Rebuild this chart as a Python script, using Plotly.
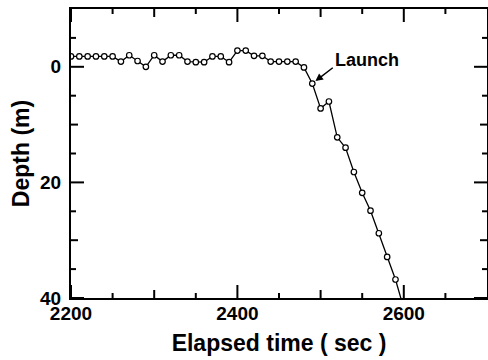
import plotly.graph_objects as go

# ---- data ----
elapsed_time = [2200, 2210, 2220, 2230, 2240, 2250, 2260, 2270, 2280, 2290,
                2300, 2310, 2320, 2330, 2340, 2350, 2360, 2370, 2380, 2390,
                2400, 2410, 2420, 2430, 2440, 2450, 2460, 2470, 2480, 2490,
                2500, 2510, 2520, 2530, 2540, 2550, 2560, 2570, 2580, 2590,
                2600]
depth = [-1.8, -1.8, -1.8, -1.8, -1.8, -1.8, -0.9, -2.0, -1.0, 0.0,
         -2.0, -0.9, -2.0, -2.0, -0.9, -0.8, -0.8, -1.8, -1.8, -0.8,
         -2.8, -2.8, -1.9, -1.9, -0.9, -0.9, -0.9, -0.9, 0.1, 2.9,
         7.2, 6.0, 12.2, 14.0, 18.2, 21.8, 24.9, 28.8, 32.9, 36.8,
         41.8]

x_range = [2200, 2700]
x_major = [2200, 2400, 2600]
x_major_text = ["2200", "2400", "2600"]
x_mid = [2300, 2500]
x_minor = [2250, 2350, 2450, 2550, 2650]
y_range = [40, -10]
y_major = [0, 20, 40]
y_major_text = ["0", "20", "40"]
y_mid = [10, 30]
y_minor = [-5, 5, 15, 25, 35]

launch_label = "Launch"
launch_time = 2490
launch_depth = 2.9

FONT = "Liberation Sans, Arial, Helvetica, sans-serif"
INK = "#000000"

W, H = 488, 360
M = dict(l=71, r=1, t=9, b=62)
PLOT_W = W - M["l"] - M["r"]
PLOT_H = H - M["t"] - M["b"]
X_PER_PX = (x_range[1] - x_range[0]) / PLOT_W
Y_PER_PX = (y_range[0] - y_range[1]) / PLOT_H

fig = go.Figure()

# inward tick marks on all four sides (three lengths, as in the reference),
# drawn as one line trace; positions come from the tick-value arrays
tx, ty = [], []
for vals, ln in ((x_major, 13), (x_mid, 8), (x_minor, 5)):
    d = ln * Y_PER_PX
    for v in vals:
        tx += [v, v, None, v, v, None]
        ty += [y_range[0], y_range[0] - d, None, y_range[1], y_range[1] + d, None]
for vals, ln in ((y_major, 13), (y_mid, 7), (y_minor, 5)):
    d = ln * X_PER_PX
    for v in vals:
        tx += [x_range[0], x_range[0] + d, None, x_range[1], x_range[1] - d, None]
        ty += [v, v, None, v, v, None]
fig.add_trace(go.Scatter(
    x=tx, y=ty, mode="lines", line=dict(color=INK, width=2),
    showlegend=False, hoverinfo="skip",
))

fig.add_trace(go.Scatter(
    x=elapsed_time, y=depth, mode="lines+markers",
    line=dict(color=INK, width=1.3),
    marker=dict(symbol="circle", size=5.5, color="white",
                line=dict(color=INK, width=1.2)),
    showlegend=False, hoverinfo="x+y",
))

common = dict(showline=True, linecolor=INK, linewidth=2, mirror=True,
              ticks="inside", tickcolor="rgba(0,0,0,0)", ticklen=13,
              showgrid=False, zeroline=False, automargin=False,
              tickmode="array",
              tickfont=dict(family=FONT, size=19, weight="bold", color=INK))

fig.update_layout(
    width=W, height=H,
    margin=M,
    paper_bgcolor="white", plot_bgcolor="white",
    font=dict(family=FONT, color=INK),
    xaxis=dict(range=x_range, tickvals=x_major, ticktext=x_major_text,
               ticklabelstandoff=-3,
               title=dict(text="Elapsed time ( sec )", standoff=12,
                          font=dict(family=FONT, size=23, weight="bold", color=INK)),
               **common),
    yaxis=dict(range=y_range, tickvals=y_major, ticktext=y_major_text,
               ticklabelstandoff=4,
               title=dict(text="Depth (m)", standoff=4,
                          font=dict(family=FONT, size=23, weight="bold", color=INK)),
               **common),
    annotations=[
        dict(x=launch_time, y=launch_depth, xref="x", yref="y", text="",
             showarrow=True, ax=22, ay=-17, arrowhead=2, arrowsize=1,
             arrowwidth=1.5, arrowcolor=INK, standoff=4),
        dict(x=2556, y=-1.2, xref="x", yref="y", text=launch_label,
             showarrow=False, xanchor="center", yanchor="middle",
             font=dict(family=FONT, size=18, weight="bold", color=INK)),
    ],
)

fig.write_html("out.html")
